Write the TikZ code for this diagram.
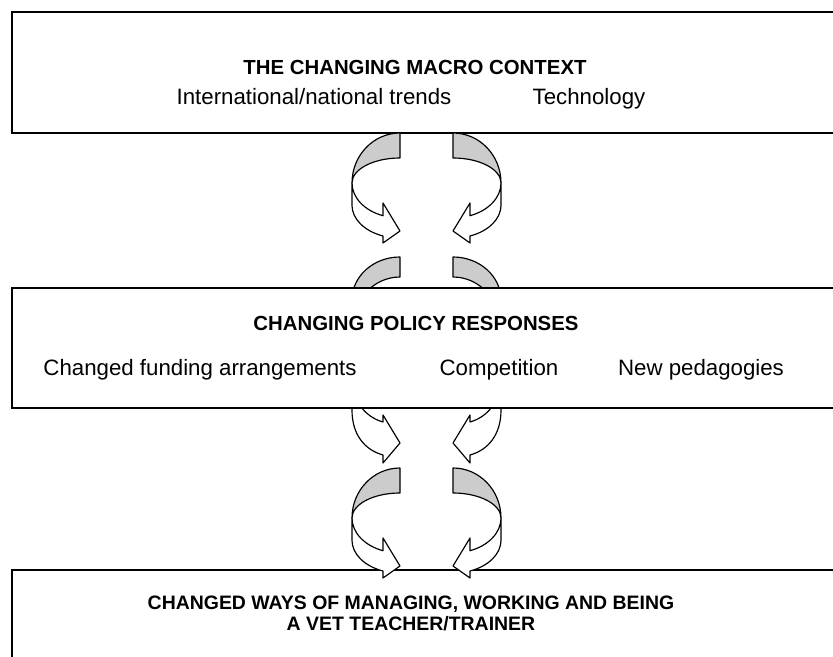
\documentclass[tikz,border=0pt]{standalone}
\usepackage{fontspec}
\setmainfont{Liberation Sans}
\usetikzlibrary{positioning}
\tikzset{panel/.style={draw=black, line width=1.6pt, fill=white, rectangle, inner sep=0pt, anchor=north west, minimum width=25.2cm}}
\tikzset{heading/.style={font=\bfseries\fontsize{17.4}{18}\selectfont, align=center, inner sep=0pt}}
\tikzset{item/.style={font=\fontsize{19}{22}\selectfont, inner sep=0pt, anchor=base}}
\tikzset{back band/.style={draw=black, line width=1pt, fill=black!20, line join=round}}
\tikzset{front band/.style={draw=black, line width=1pt, fill=white, line join=round}}

\begin{document}
\begin{tikzpicture}[x=0.03cm, y=-0.03cm]
\path[use as bounding box, clip] (0,0) rectangle (833,657);

% middle pair, half hidden behind the policy box
\foreach \s in {1,-1} {
  \begin{scope}[shift={(426.5,0)}, xscale=\s]
    \draw[back band] (-26.5,257) arc[start angle=270, end angle=180, x radius=48, y radius=43] -- (-74.5,329) arc[start angle=180, end angle=270, x radius=48, y radius=52] -- cycle;
    \draw[front band] (-74.5,380) .. controls (-74.5,400) and (-61.5,417) .. (-43.5,422) -- (-43.5,415) -- (-26.5,443) -- (-43.5,463) -- (-43.5,455) .. controls (-61.5,450) and (-74.5,435) .. (-74.5,410) -- cycle;
  \end{scope}
}

\node[panel, minimum height=3.63cm] (macro) at (11,11) {};
\node[panel, minimum height=3.6cm] (policy) at (11,287) {};
\node[panel, minimum height=3.1cm] (ways) at (11,569) {};

\node[heading, anchor=base] (macrotitle) at (415,75) {THE CHANGING MACRO CONTEXT};
\node[item] (trends) at (314,105) {International/national trends};
\node[item] (tech) at (589,105) {Technology};

\node[heading, anchor=base] (policytitle) at (416,331) {CHANGING POLICY RESPONSES};
\node[item] (funding) at (200,376) {Changed funding arrangements};
\node[item] (compet) at (499,376) {Competition};
\node[item] (pedag) at (701,376) {New pedagogies};

\node[heading, font=\bfseries\fontsize{16.6}{18}\selectfont] (waystitle) at (411,613) {CHANGED WAYS OF MANAGING, WORKING AND BEING\\A VET TEACHER/TRAINER};

% upper and lower pairs
\foreach \s in {1,-1} {
  \foreach \dy in {0,335} {
    \begin{scope}[shift={(426.5,\dy)}, xscale=\s]
      \draw[back band] (-26.5,133) arc[start angle=270, end angle=180, x radius=48, y radius=50] arc[start angle=180, end angle=270, x radius=48, y radius=25] -- cycle;
      \draw[front band] (-74.5,183) arc[start angle=180, end angle=110.7, x radius=48, y radius=35] -- (-43.5,203) -- (-26.5,231) -- (-43.5,243) -- (-43.5,236) arc[start angle=110.7, end angle=180, x radius=48, y radius=33] -- cycle;
    \end{scope}
  }
}
\end{tikzpicture}
\end{document}
